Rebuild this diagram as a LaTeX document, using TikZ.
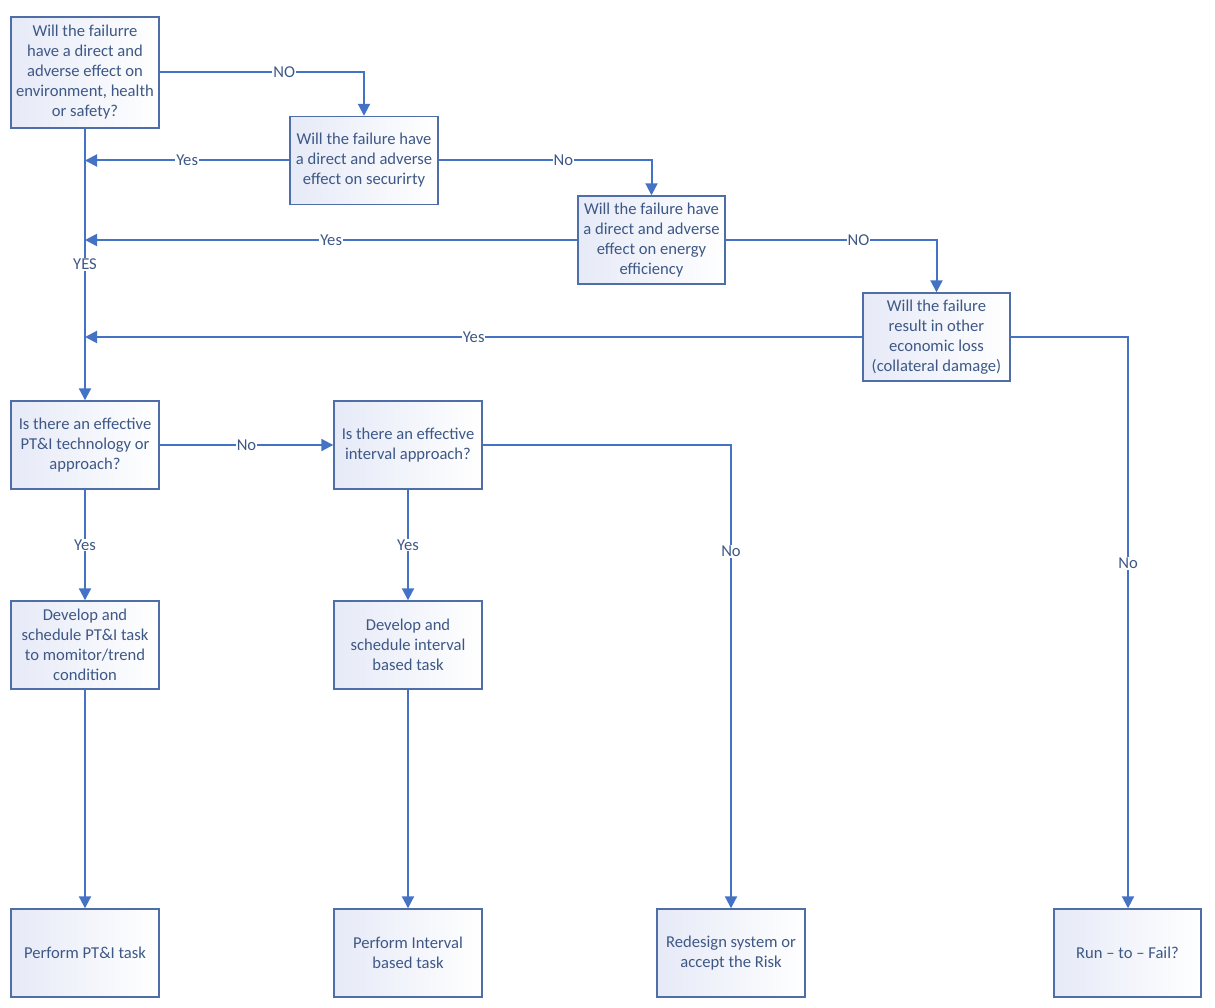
\documentclass[tikz,border=0pt]{standalone}
\usepackage{fontspec}
\setmainfont{Carlito}
\usetikzlibrary{arrows.meta}
\definecolor{lineblue}{RGB}{68,114,196}
\definecolor{boxborder}{RGB}{79,110,168}
\definecolor{txtblue}{RGB}{62,88,134}
\definecolor{shadeblue}{RGB}{230,234,247}
\tikzset{
  box/.style={draw=boxborder, line width=1.4pt, left color=shadeblue, right color=white,
    minimum width=148pt, minimum height=88pt, align=center, text=txtblue,
    font=\fontsize{16.6pt}{20pt}\selectfont, inner sep=2pt},
  conn/.style={draw=lineblue, line width=2pt},
  arr/.style={conn, -{Triangle[length=12pt,width=12pt]}},
  lbl/.style={fill=white, text=txtblue, font=\fontsize{16.6pt}{18pt}\selectfont, inner sep=1pt}
}
\begin{document}
\begin{tikzpicture}[x=1pt,y=-1pt]
\useasboundingbox (0,0) rectangle (1215,1008);
\fill[white] (0,0) rectangle (1215,1008);
% boxes
\node[box, minimum height=111pt] (q1) at (85,72.5) {Will the failurre\\have a direct and\\adverse effect on\\environment, health\\or safety?};
\node[box] (q2) at (364,160.5) {Will the failure have\\a direct and adverse\\effect on securirty};
\node[box, minimum width=147pt] (q3) at (651.5,240) {Will the failure have\\a direct and adverse\\effect on energy\\efficiency};
\node[box, minimum width=147pt] (q4) at (936.5,337) {Will the failure\\result in other\\economic loss\\(collateral damage)};
\node[box] (q5) at (85,445) {Is there an effective\\PT\&I technology or\\approach?};
\node[box] (q6) at (408,445) {Is there an effective\\interval approach?};
\node[box] (d1) at (85,645) {Develop and\\schedule PT\&I task\\to momitor/trend\\condition};
\node[box] (d2) at (408,645) {Develop and\\schedule interval\\based task};
\node[box] (p1) at (85,953) {Perform PT\&I task};
\node[box] (p2) at (408,953) {Perform Interval\\based task};
\node[box] (p3) at (731,953) {Redesign system or\\accept the Risk};
\node[box, minimum width=147pt] (p4) at (1127.5,953) {Run – to – Fail?};
% junction points on the main vertical line
\coordinate (j1) at (85,160.5);
\coordinate (j2) at (85,240);
\coordinate (j3) at (85,337);
% connectors
\draw[arr] (q1.south) -- node[lbl, pos=0.5] {YES} (q5.north);
\draw[arr] (q1.east) -| node[lbl, pos=0.305] {NO} (q2.north);
\draw[arr] (q2.west) -- node[lbl, pos=0.5] {Yes} (j1);
\draw[arr] (q2.east) -| node[lbl, pos=0.293] {No} (q3.north);
\draw[arr] (q3.west) -- node[lbl, pos=0.5] {Yes} (j2);
\draw[arr] (q3.east) -| node[lbl, pos=0.315] {NO} (q4.north);
\draw[arr] (q4.west) -- node[lbl, pos=0.5] {Yes} (j3);
\draw[arr] (q4.east) -| node[lbl, pos=0.698] {No} ([xshift=0.5pt]p4.north);
\draw[arr] (q5.east) -- node[lbl, pos=0.5] {No} (q6.west);
\draw[arr] (q5.south) -- node[lbl, pos=0.5] {Yes} (d1.north);
\draw[arr] (q6.south) -- node[lbl, pos=0.5] {Yes} (d2.north);
\draw[arr] (q6.east) -| node[lbl, pos=0.615] {No} (p3.north);
\draw[arr] (d1.south) -- (p1.north);
\draw[arr] (d2.south) -- (p2.north);
\end{tikzpicture}
\end{document}
